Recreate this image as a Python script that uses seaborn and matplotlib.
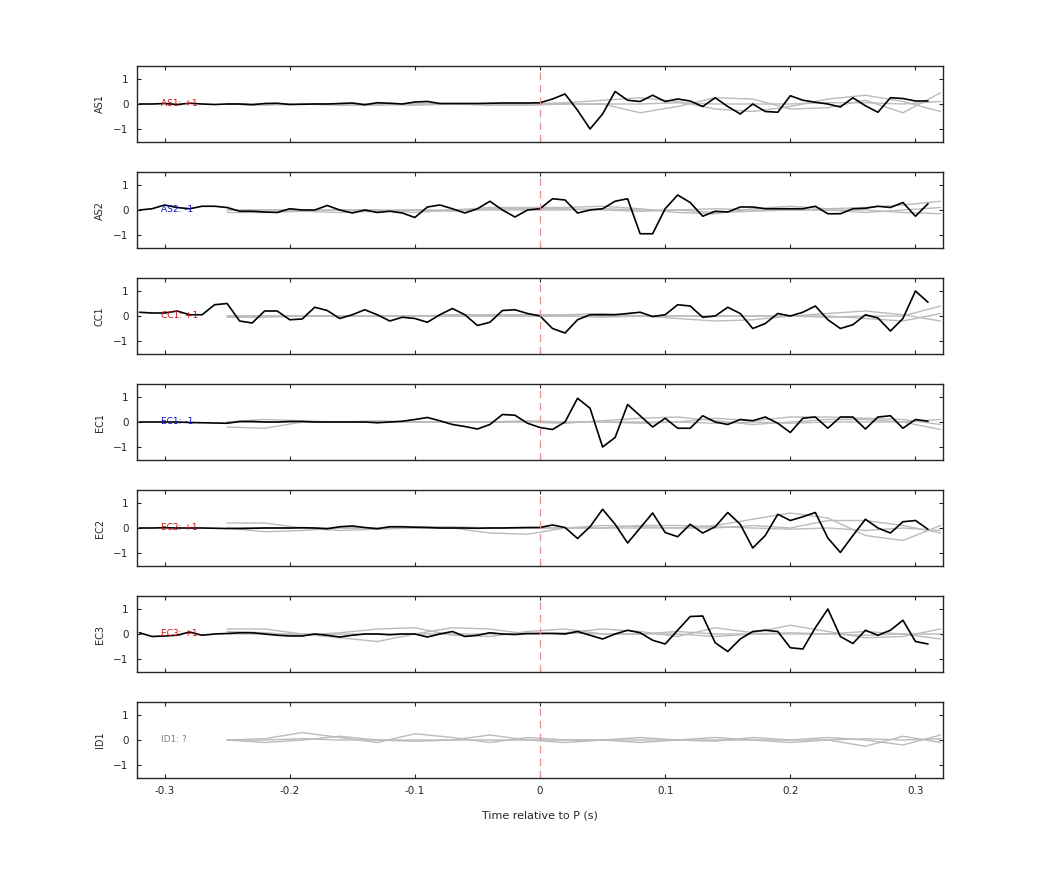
import numpy as np
import matplotlib
matplotlib.use("Agg")
import matplotlib.pyplot as plt
import seaborn as sns

sns.set_style("ticks")
plt.rcParams['font.family'] = ['DejaVu Sans']

stations = ["AS1", "AS2", "CC1", "EC1", "EC2", "EC3", "ID1"]
labels = ["AS1: +1", "AS2: -1", "CC1: +1", "EC1: -1", "EC2: +1", "EC3: +1", "ID1: ?"]
label_colors = ["#d01010", "#1010d0", "#d01010", "#1010d0", "#d01010", "#d01010", "#808080"]

t_black = np.round(np.arange(-0.32, 0.315, 0.01), 2)

AS1 = [0,0,0.02,-0.02,0.03,0,-0.02,0,0,-0.03,0.02,0.03,-0.02,-0.01,0,0,0.02,0.04,-0.03,0.05,0.03,0,0.08,0.1,0.02,0.02,0.02,0.02,0.03,0.04,0.04,0.04,
       0.05,0.2,0.4,-0.25,-1.0,-0.4,0.5,0.15,0.1,0.35,0.1,0.2,0.12,-0.1,0.25,-0.1,-0.4,0.0,-0.3,-0.33,0.33,0.15,0.07,0.0,-0.12,0.25,-0.07,-0.33,0.25,0.22,0.12,0.12]
AS2 = [0.0,0.05,0.2,0.1,0.05,0.15,0.15,0.1,-0.05,-0.05,-0.08,-0.1,0.05,0.0,0.0,0.18,0.0,-0.12,0.0,-0.1,-0.05,-0.12,-0.3,0.12,0.2,0.05,-0.12,0.05,0.35,0.0,-0.28,0.0,
       0.05,0.45,0.4,-0.12,0.0,0.05,0.35,0.45,-0.95,-0.95,0.05,0.6,0.3,-0.25,-0.05,-0.08,0.12,0.12,0.05,0.05,0.05,0.05,0.15,-0.15,-0.15,0.05,0.07,0.15,0.1,0.3,-0.25,0.25]
CC1 = [0.15,0.12,0.12,0.2,0.05,0.05,0.45,0.5,-0.2,-0.28,0.2,0.2,-0.15,-0.12,0.35,0.22,-0.1,0.05,0.25,0.05,-0.2,-0.05,-0.1,-0.25,0.05,0.3,0.05,-0.38,-0.25,0.22,0.25,0.1,
       0.0,-0.5,-0.68,-0.15,0.05,0.05,0.05,0.1,0.15,-0.02,0.05,0.45,0.4,-0.05,0.0,0.35,0.1,-0.5,-0.3,0.1,0.0,0.15,0.4,-0.15,-0.5,-0.35,0.05,-0.08,-0.6,-0.1,1.0,0.55]
EC1 = [0.0,0.0,0.0,0.0,-0.02,-0.03,-0.04,-0.05,0.02,0.02,0.0,0.0,0.02,0.02,0.0,0.0,0.0,0.0,0.0,-0.03,0.0,0.03,0.1,0.18,0.05,-0.1,-0.18,-0.28,-0.1,0.3,0.27,-0.05,
       -0.22,-0.3,0.0,0.95,0.55,-1.0,-0.62,0.7,0.25,-0.2,0.15,-0.25,-0.25,0.25,0.0,-0.1,0.1,0.05,0.2,-0.05,-0.42,0.15,0.2,-0.25,0.2,0.2,-0.28,0.2,0.25,-0.25,0.1,0.03]
EC2 = [0.0,0.0,0.01,0.0,0.0,0.0,-0.01,-0.02,-0.02,-0.01,0.0,0.0,0.0,0.01,0.0,-0.03,0.05,0.08,0.02,-0.03,0.05,0.05,0.03,0.02,0.0,0.0,0.0,-0.01,0.0,0.0,0.01,0.02,
       0.02,0.12,0.02,-0.42,0.05,0.75,0.15,-0.6,0.0,0.6,-0.18,-0.35,0.15,-0.2,0.05,0.62,0.15,-0.8,-0.3,0.55,0.3,0.45,0.62,-0.4,-0.98,-0.3,0.35,0.0,-0.2,0.25,0.3,-0.05]
EC3 = [0.05,-0.1,-0.08,-0.05,0.08,-0.05,0.0,0.02,0.05,0.05,0.0,-0.05,-0.08,-0.08,0.0,-0.05,-0.12,-0.05,0.0,0.0,-0.03,0.0,0.0,-0.12,0.0,0.1,-0.1,-0.05,0.05,0.0,-0.02,0.02,
       0.02,0.02,0.0,0.1,-0.05,-0.2,0.0,0.15,0.05,-0.25,-0.4,0.15,0.7,0.72,-0.35,-0.7,-0.2,0.1,0.15,0.1,-0.55,-0.6,0.25,1.0,-0.1,-0.38,0.15,-0.05,0.15,0.55,-0.3,-0.4]
black = [AS1, AS2, CC1, EC1, EC2, EC3, None]

t_gray = np.round(np.arange(-0.25, 0.321, 0.03), 2)  # 20 points
gray = {
    "AS1": [[0,0,0,-0.05,-0.05,0,0,0,0,0.05,0.15,0.25,0.1,-0.2,-0.3,-0.1,0.2,0.35,0.1,-0.3],
            [0,-0.05,0,0,0,-0.05,0,-0.05,-0.05,0,0,-0.35,-0.1,0.25,0.2,-0.2,-0.15,0.15,-0.35,0.45],
            [0,0,0,0,0,0,0,0,0,0,0,0,0.05,0,0,0,0.05,0.05,0,0.1]],
    "AS2": [[0,0,0,0,0,-0.1,0,0.1,0.1,0.1,0.15,0.05,-0.1,-0.15,0.05,0.15,0.05,0.1,0.2,0.35],
            [-0.1,-0.1,-0.05,-0.1,-0.05,0,-0.05,0.05,0.05,0.05,0,-0.05,0,-0.1,-0.05,0,0,-0.1,0,0.1],
            [0,0,0,0,0,0,0,0,0,0,0.05,0,0,0.05,0,0,0,0,-0.1,-0.15]],
    "CC1": [[0,0,0,0,0,0,0.05,0.05,0.05,0.05,0.1,0,-0.1,-0.2,-0.15,0,0.1,0.2,0.05,-0.2],
            [-0.05,-0.05,0,0,0,0,0,0,0,0,-0.05,0,0,0,0,0,-0.05,0,0,0.4],
            [0,0,0,0,0,0,0,0,0,0,0,0,0,0,0,0,0,-0.1,-0.2,0.1]],
    "EC1": [[-0.2,-0.25,0,0,0,0,0,0,0,-0.05,0.05,0.15,0.2,0.05,-0.1,0,0.1,0.1,0,-0.3],
            [0,0.1,0.05,0,0.05,0,0,0,0.05,0,0,0,0,0.15,0.05,0.2,0.2,0.15,0.1,-0.1],
            [0,0,0,0,0,0,0,0,0,0,0,-0.05,0,-0.05,0,-0.05,0,0,0,0.1]],
    "EC2": [[0.2,0.2,0,-0.1,-0.05,0,0,-0.2,-0.25,0,0.1,0.05,0,0.1,0.35,0.6,0.4,-0.3,-0.5,0.1],
            [0,-0.15,-0.1,0,0,0.05,0.05,0,0,0,0,0,0,0,0.1,0,0.3,0.3,0.1,-0.2],
            [0,0,0,0,0,0,0,0,0,0,0,0.1,0.1,0.05,0,-0.05,0,-0.1,0,-0.1]],
    "EC3": [[0.2,0.2,0,-0.15,-0.3,0,0.25,0.2,0,0.05,0.2,0.1,-0.1,0.25,0.05,0.35,0.1,-0.15,-0.1,0.2],
            [0.1,0.05,-0.05,0.05,0.2,0.25,-0.05,-0.1,0.1,0.2,0,0,0,-0.1,0,0.05,0,0.1,0,-0.2],
            [0,0,0,0,0,0,0,0,0,0.05,0,0,0.1,0,0,0,0,-0.05,0,0]],
    "ID1": [[0,0.05,0.3,0.1,-0.1,0.25,0.1,-0.1,0.1,0,0,-0.1,0,-0.05,0.1,0,0.1,0,-0.2,0.2],
            [0,-0.1,0,0.15,0,-0.05,0,0.2,0,-0.1,0,0.1,0,0.1,0,-0.1,0,-0.25,0.15,-0.1],
            [0,0,0.05,0,0,0,0,0,0,0,0,0,0,0,0,0,0,0.05,0,0.05]],
}

W, H = 1042, 875
fig = plt.figure(figsize=(W/100, H/100), dpi=100)
tops = [66, 172, 278, 384, 490, 596, 702]
for i, st in enumerate(stations):
    ax = fig.add_axes([137/W, 1 - (tops[i]+76)/H, 806/W, 76/H])
    for g in gray[st]:
        sns.lineplot(x=t_gray, y=g, ax=ax, color="#bbbbbb", lw=1.0)
    if black[i] is not None:
        sns.lineplot(x=t_black, y=black[i], ax=ax, color="black", lw=1.2)
    ax.axvline(0, color="#e49090", ls=(0, (6, 4)), lw=0.9)
    ax.text(-0.303, 0, labels[i], color=label_colors[i], fontsize=6.5, va="center", ha="left")
    ax.set_xlim(-0.322, 0.322)
    ax.set_ylim(-1.52, 1.52)
    ax.set_yticks([-1, 0, 1])
    ax.set_xticks([-0.3, -0.2, -0.1, 0, 0.1, 0.2, 0.3])
    ax.tick_params(direction="in", top=True, right=True, labelsize=7.5, length=3, pad=6)
    ax.set_ylabel(st, fontsize=7, labelpad=6)
    for s in ax.spines.values():
        s.set_linewidth(1.0)
    if i < 6:
        ax.set_xticklabels([])
    else:
        ax.set_xticklabels(["-0.3", "-0.2", "-0.1", "0", "0.1", "0.2", "0.3"])
        ax.set_xlabel("Time relative to P (s)", fontsize=8, labelpad=10)
fig.savefig("out.png", dpi=100)
